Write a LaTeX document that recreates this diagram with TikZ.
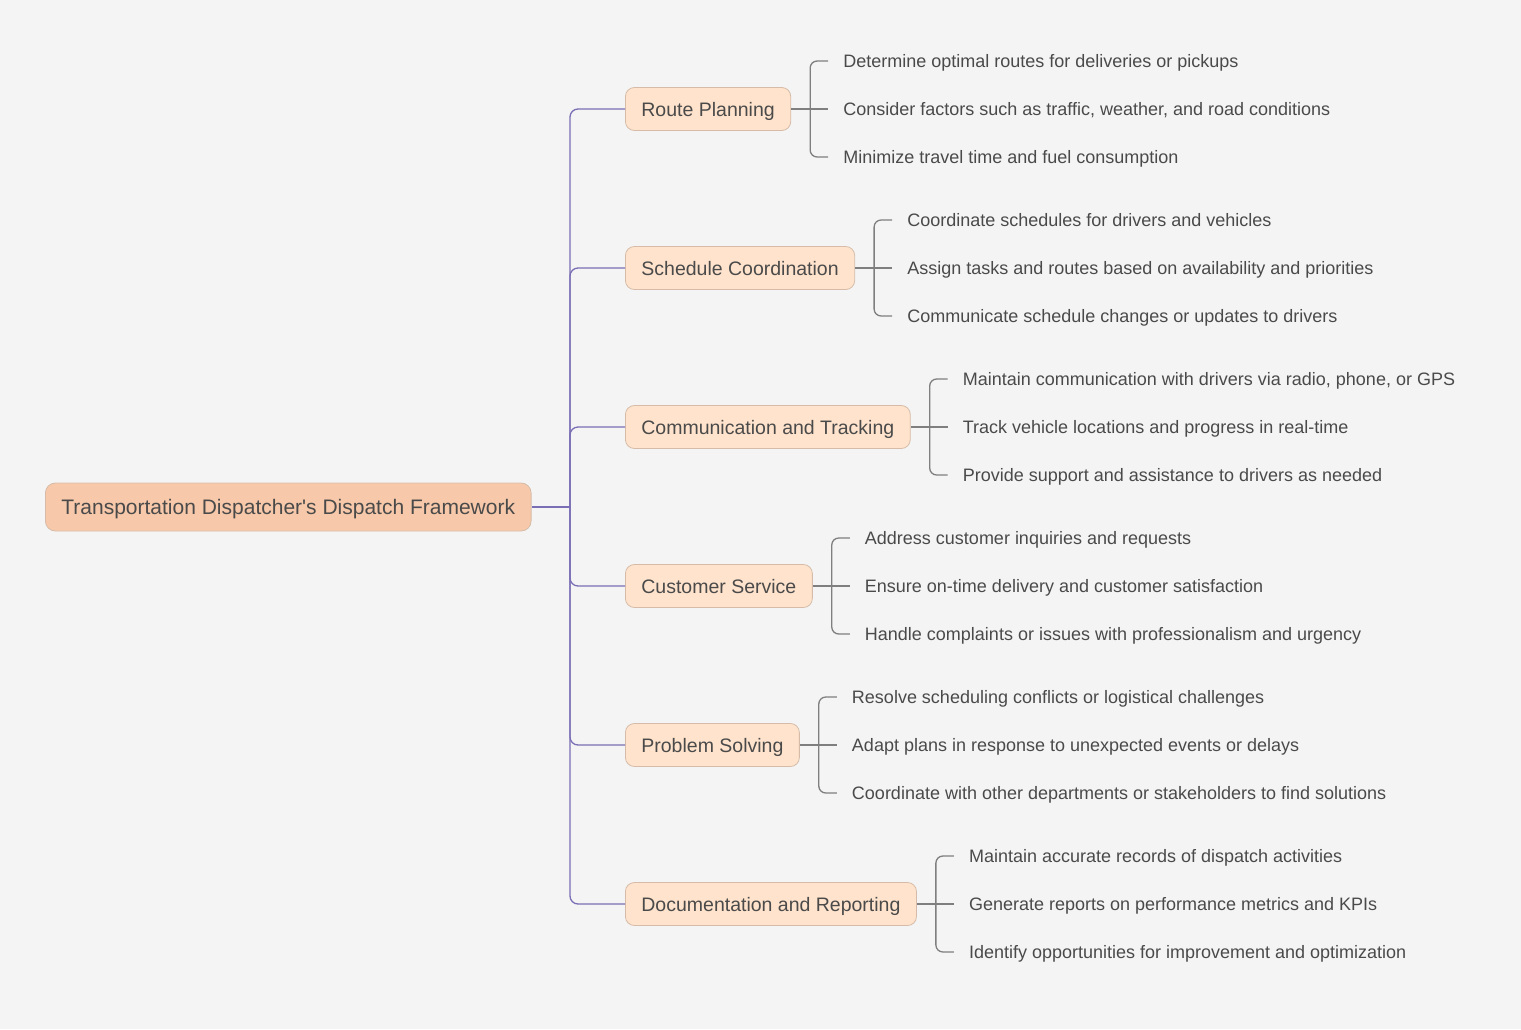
\documentclass[tikz,border=0pt]{standalone}
\usepackage{fontspec}
\setmainfont{Liberation Sans}
\usetikzlibrary{positioning}
\definecolor{paper}{HTML}{F4F4F4}
\definecolor{peach}{HTML}{F7C9AA}
\definecolor{cream}{HTML}{FFE3CC}
\definecolor{edge}{HTML}{D6BCA8}
\definecolor{ink}{HTML}{4A4A4A}
\definecolor{violet}{HTML}{7A6FB5}
\definecolor{slate}{HTML}{7F7F7F}
\tikzset{root/.style={draw=edge,fill=peach,rounded corners=10pt,thick,text=ink,inner xsep=16pt,minimum height=48pt,text height=18pt,text depth=4pt,font=\fontsize{21}{25}\selectfont},branch/.style={draw=edge,fill=cream,rounded corners=9pt,thick,text=ink,inner xsep=16pt,minimum height=43pt,text height=17pt,text depth=3pt,anchor=west,font=\fontsize{19.5}{23}\selectfont},leaf/.style={inner sep=0pt,text=ink,text height=16pt,text depth=3pt,font=\fontsize{18}{22}\selectfont},trunk/.style={violet,line width=1.3pt,rounded corners=8pt},twig/.style={slate,line width=1.3pt,rounded corners=7pt}}

\begin{document}
\begin{tikzpicture}[x=1pt,y=-1pt]
\fill[paper] (0,0) rectangle (1521,1029);
\useasboundingbox (0,0) rectangle (1521,1029);
\node[root,anchor=west] (root) at (45,507) {Transportation Dispatcher\textquotesingle s Dispatch Framework};
\coordinate (spine) at (570,507);
\node[branch] (route) at (625,109) {Route Planning};
\node[branch] (sched) at (625,268) {Schedule Coordination};
\node[branch] (comm) at (625,427) {Communication and Tracking};
\node[branch] (cust) at (625,586) {Customer Service};
\node[branch] (prob) at (625,745) {Problem Solving};
\node[branch] (docs) at (625,904) {Documentation and Reporting};
\draw[trunk] (root.east) -- (spine);
\draw[trunk] (spine) |- (route.west); \draw[trunk] (spine) |- (sched.west); \draw[trunk] (spine) |- (comm.west);
\draw[trunk] (spine) |- (cust.west); \draw[trunk] (spine) |- (prob.west); \draw[trunk] (spine) |- (docs.west);
% route planning
\coordinate[right=19pt of route.east] (routeb);
\node[leaf,right=33pt of routeb] (route2) {Consider factors such as traffic, weather, and road conditions};
\node[leaf,above=48pt of route2.west,anchor=west] (route1) {Determine optimal routes for deliveries or pickups};
\node[leaf,below=48pt of route2.west,anchor=west] (route3) {Minimize travel time and fuel consumption};
\draw[twig] (route.east) -- ([xshift=-15pt]route2.west); \draw[twig] ([xshift=-15pt]route1.west) -| (routeb) |- ([xshift=-15pt]route3.west);
% schedule coordination
\coordinate[right=19pt of sched.east] (schedb);
\node[leaf,right=33pt of schedb] (sched2) {Assign tasks and routes based on availability and priorities};
\node[leaf,above=48pt of sched2.west,anchor=west] (sched1) {Coordinate schedules for drivers and vehicles};
\node[leaf,below=48pt of sched2.west,anchor=west] (sched3) {Communicate schedule changes or updates to drivers};
\draw[twig] (sched.east) -- ([xshift=-15pt]sched2.west); \draw[twig] ([xshift=-15pt]sched1.west) -| (schedb) |- ([xshift=-15pt]sched3.west);
% communication and tracking
\coordinate[right=19pt of comm.east] (commb);
\node[leaf,right=33pt of commb] (comm2) {Track vehicle locations and progress in real-time};
\node[leaf,above=48pt of comm2.west,anchor=west] (comm1) {Maintain communication with drivers via radio, phone, or GPS};
\node[leaf,below=48pt of comm2.west,anchor=west] (comm3) {Provide support and assistance to drivers as needed};
\draw[twig] (comm.east) -- ([xshift=-15pt]comm2.west); \draw[twig] ([xshift=-15pt]comm1.west) -| (commb) |- ([xshift=-15pt]comm3.west);
% customer service
\coordinate[right=19pt of cust.east] (custb);
\node[leaf,right=33pt of custb] (cust2) {Ensure on-time delivery and customer satisfaction};
\node[leaf,above=48pt of cust2.west,anchor=west] (cust1) {Address customer inquiries and requests};
\node[leaf,below=48pt of cust2.west,anchor=west] (cust3) {Handle complaints or issues with professionalism and urgency};
\draw[twig] (cust.east) -- ([xshift=-15pt]cust2.west); \draw[twig] ([xshift=-15pt]cust1.west) -| (custb) |- ([xshift=-15pt]cust3.west);
% problem solving
\coordinate[right=19pt of prob.east] (probb);
\node[leaf,right=33pt of probb] (prob2) {Adapt plans in response to unexpected events or delays};
\node[leaf,above=48pt of prob2.west,anchor=west] (prob1) {Resolve scheduling conflicts or logistical challenges};
\node[leaf,below=48pt of prob2.west,anchor=west] (prob3) {Coordinate with other departments or stakeholders to find solutions};
\draw[twig] (prob.east) -- ([xshift=-15pt]prob2.west); \draw[twig] ([xshift=-15pt]prob1.west) -| (probb) |- ([xshift=-15pt]prob3.west);
% documentation and reporting
\coordinate[right=19pt of docs.east] (docsb);
\node[leaf,right=33pt of docsb] (docs2) {Generate reports on performance metrics and KPIs};
\node[leaf,above=48pt of docs2.west,anchor=west] (docs1) {Maintain accurate records of dispatch activities};
\node[leaf,below=48pt of docs2.west,anchor=west] (docs3) {Identify opportunities for improvement and optimization};
\draw[twig] (docs.east) -- ([xshift=-15pt]docs2.west); \draw[twig] ([xshift=-15pt]docs1.west) -| (docsb) |- ([xshift=-15pt]docs3.west);
\end{tikzpicture}
\end{document}
